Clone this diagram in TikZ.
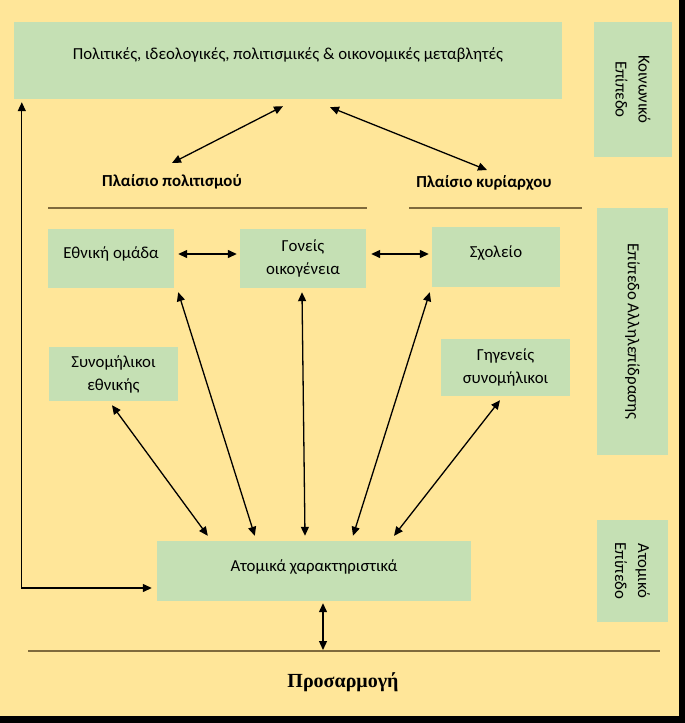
\documentclass[tikz,border=0pt]{standalone}
\usepackage{fontspec}
\setmainfont{Carlito}
\newfontfamily\timesf{Liberation Serif}
\usetikzlibrary{arrows.meta,calc}
\definecolor{bgy}{HTML}{FFE699}
\definecolor{grn}{HTML}{C5E0B4}
\definecolor{rulec}{HTML}{7F6A3C}
\begin{document}
\begin{tikzpicture}[x=1pt,y=-1pt,
  box/.style={fill=grn, draw=none, inner sep=0pt, align=center, font=\fontsize{16.8}{23}\selectfont},
  raised/.style={text height=12pt, text depth=#1},
  arr/.style={line width=1.3pt, {Triangle[length=9pt,width=8pt]}-{Triangle[length=9pt,width=8pt]}},
  rul/.style={draw=rulec, line width=1.8pt},
  lbl/.style={font=\bfseries\fontsize{16.8}{19}\selectfont, inner sep=0pt}]
\fill[black] (0,0) rectangle (685,723);
\fill[bgy] (0,0) rectangle (679,716);
\useasboundingbox (0,0) rectangle (685,723);

% boxes
\node[box, raised=15pt, minimum width=548pt, minimum height=77pt] (top) at (288,60.5) {Πολιτικές, ιδεολογικές, πολιτισμικές \& οικονομικές μεταβλητές};
\node[box, rotate=-90, minimum width=135pt, minimum height=78pt] (soc) at (633,89.5) {Κοινωνικό\\Επίπεδο};
\node[box, rotate=-90, minimum width=247pt, minimum height=71pt] (inter) at (632.5,331.5) {Επίπεδο Αλληλεπίδρασης};
\node[box, rotate=-90, minimum width=102pt, minimum height=71pt] (indl) at (632.5,571) {Ατομικό\\Επίπεδο};

\node[box, raised=12pt, minimum width=126pt, minimum height=59pt] (eth) at (111,258.5) {Εθνική ομάδα};
\node[box, minimum width=126pt, minimum height=59pt] (gon) at (303,258.5) {Γονείς\\οικογένεια};
\node[box, raised=12pt, minimum width=128pt, minimum height=60pt] (sch) at (496,257) {Σχολείο};
\node[box, minimum width=129pt, minimum height=54pt] (syn) at (113.5,374) {Συνομήλικοι\\εθνικής};
\node[box, minimum width=129pt, minimum height=57pt] (gig) at (505.5,367.5) {Γηγενείς\\συνομήλικοι};
\node[box, raised=12pt, minimum width=314pt, minimum height=60pt] (ind) at (314,571) {Ατομικά χαρακτηριστικά};

% labels
\node[lbl] (pol) at (172,182) {Πλαίσιο πολιτισμού};
\node[lbl] (kyr) at (484,183) {Πλαίσιο κυρίαρχου};
\node[font=\timesf\bfseries\fontsize{20}{22}\selectfont, inner sep=0pt] (adj) at (343,682) {Προσαρμογή};

% rules
\coordinate (l1a) at (48,208);
\coordinate (l1b) at (367,208);
\coordinate (l2a) at (409,208);
\coordinate (l2b) at (582,208);
\coordinate (bla) at (28,651);
\coordinate (blb) at (660,651);
\coordinate (adjpt) at (323,650);
\draw[rul] (l1a) -- (l1b);
\draw[rul] (l2a) -- (l2b);
\draw[rul] (bla) -- (blb);

% arrows
\draw[arr] ([xshift=-5pt,yshift=-7pt]top.south) -- ([yshift=19pt]pol.center);
\draw[arr] ([xshift=42pt,yshift=-8pt]top.south) -- ([xshift=3pt,yshift=13pt]kyr.center);
\draw[arr] ([xshift=4pt,yshift=4.5pt]eth.east) -- ([xshift=-3pt,yshift=4.5pt]gon.west);
\draw[arr] ([xshift=5pt,yshift=4.5pt]gon.east) -- ([xshift=-3pt,yshift=3pt]sch.west);
\draw[arr] ([xshift=4pt,yshift=-4pt]eth.south east) -- ([xshift=98pt,yshift=5pt]ind.north west);
\draw[arr] ([xshift=-1pt,yshift=-4pt]gon.south) -- ([xshift=-9pt,yshift=5pt]ind.north);
\draw[arr] ([xshift=-2pt,yshift=-5pt]sch.south west) -- ([xshift=39pt,yshift=5pt]ind.north);
\draw[arr] ([xshift=-1.5pt,yshift=-4pt]syn.south) -- ([xshift=51pt,yshift=5pt]ind.north west);
\draw[arr] ([xshift=-5.5pt,yshift=-4pt]gig.south) -- ([xshift=80pt,yshift=5pt]ind.north);
\draw[arr] ([xshift=-5pt,yshift=-17pt]ind.west) -| ([xshift=8pt,yshift=-3pt]top.south west);
\draw[arr] ([xshift=9pt,yshift=-2pt]ind.south) -- (adjpt);
\end{tikzpicture}
\end{document}
